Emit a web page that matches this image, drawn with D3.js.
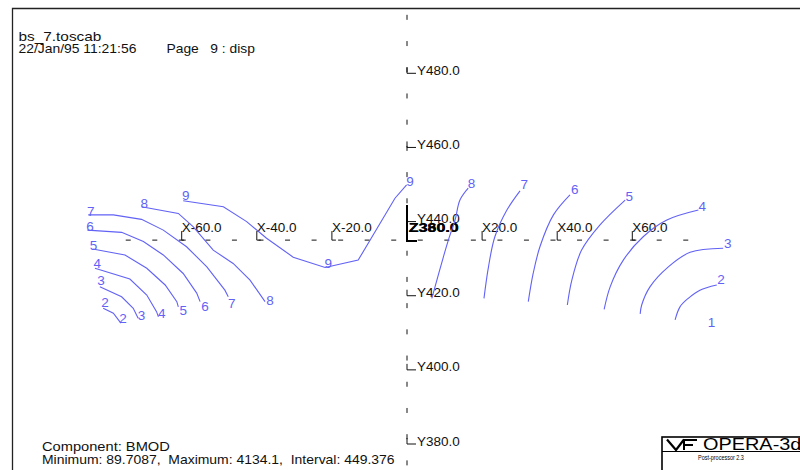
<!DOCTYPE html>
<html><head><meta charset="utf-8">
<script src="https://cdn.jsdelivr.net/npm/d3@7"></script>
<style>body{margin:0;background:#fff} svg{display:block} text{white-space:pre}</style>
</head><body>
<svg id="c" width="800" height="470"></svg>
<script>
// ---------- data ----------
const xTicks = [-60, -40, -20, 20, 40, 60];
const yTicks = [480, 460, 440, 420, 400, 380];
const zLabels = ["Z380.0", "Z360.0"];
const xAxisLevel = 435;          // Y value where the X axis runs
const axisDashStep = 7.07;       // spacing of the dashed axes (model units)

const headerLines = ["bs_7.toscab", "22/Jan/95 11:21:56"];
const pageLabel = "Page   9 : disp";
const footerLines = ["Component: BMOD", "Minimum: 89.7087,  Maximum: 4134.1,  Interval: 449.376"];

// contour polylines [X, Y]
const c9  = [[-59.6,445.6],[-48.9,444.0],[-42.7,440.0],[-37.4,435.5],[-30.3,430.4],[-21.8,427.6],[-13.0,429.6],[-3.2,446.3],[-0.1,449.9]];
const c8L = [[-70.7,444.0],[-60.9,442.2],[-56.9,438.6],[-51.6,432.3],[-46.3,428.7],[-41.8,424.2],[-37.8,418.4]];
const c7L = [[-84.9,441.8],[-78.2,441.8],[-70.7,440.6],[-64.9,437.7],[-58.7,433.2],[-53.3,427.8],[-48.5,421.5],[-47.6,419.7]];
const c6L = [[-85.1,437.7],[-76.0,437.1],[-70.2,434.6],[-64.9,431.0],[-59.6,426.0],[-56.0,420.7],[-55.1,418.4]];
const c5L = [[-83.7,432.6],[-75.1,431.0],[-69.3,427.4],[-64.4,422.9],[-61.3,418.4],[-60.9,417.0]];
const c4L = [[-83.1,427.4],[-73.8,424.5],[-69.3,420.2],[-66.7,415.7],[-66.2,414.3]];
const c3L = [[-81.8,422.4],[-76.0,419.7],[-72.9,416.6],[-71.6,413.9]];
const c2L = [[-80.9,416.6],[-78.2,415.3],[-76.2,412.6]];
const c8R = [[16.3,449.0],[14.1,445.8],[12.8,440.4],[11.2,435.6],[9.7,430.5],[7.0,420.7],[6.6,419.3]];
const c7R = [[30.1,448.3],[26.6,443.1],[23.4,435.9],[21.7,427.8],[20.5,419.3]];
const c6R = [[43.4,447.2],[39.0,441.8],[35.4,433.2],[33.6,426.0],[32.3,418.4]];
const c5R = [[58.1,445.8],[51.4,439.1],[46.5,432.3],[43.9,424.2],[42.7,417.5]];
const c4R = [[77.6,443.1],[69.2,440.4],[62.9,435.9],[57.6,429.6],[54.1,422.4],[52.5,416.3]];
const c3R = [[84.2,432.8],[75.4,431.7],[69.6,427.8],[64.7,422.4],[62.5,417.5],[62.1,415.1]];
const c2R = [[82.5,422.9],[78.0,421.5],[74.9,419.3],[72.7,417.0],[71.4,413.5]];

const leftContours  = [c9, c8L, c7L, c6L, c5L, c4L, c3L, c2L];
const rightContours = [c8R, c7R, c6R, c5R, c4R, c3R, c2R];

// contour labels [level, X, Y]
const contourLabels = [
  [7,-84.2,442.7],[7,-46.7,418.0],[6,-84.4,438.8],[6,-53.8,417.2],
  [5,-83.5,433.7],[5,-59.6,416.1],[4,-82.5,428.9],[4,-65.3,415.3],
  [3,-81.5,424.2],[3,-70.7,414.8],[2,-80.4,418.4],[2,-75.6,413.9],
  [8,-70.0,445.1],[8,-36.5,418.8],[9,-58.9,447.2],[9,-21.0,428.7],[9,0.8,450.8],
  [8,17.2,450.5],[7,31.2,450.1],[6,44.7,448.7],[5,59.2,446.9],
  [4,78.6,444.2],[3,85.4,434.3],[2,83.6,424.4],[1,81.1,412.8]
];

// ---------- drawing ----------
const svg = d3.select("#c");
const FONT = "'Liberation Sans', Arial, Helvetica, sans-serif";
const CCOL = "#6262f6";

const x = d3.scaleLinear().domain([-60, 60]).range([181.7, 632.3]);
const y = d3.scaleLinear().domain([380, 480]).range([444, 73.3]);

// frame
svg.append("path").attr("d", "M12.5,470 V8.5 H800").attr("fill","none").attr("stroke","#222").attr("stroke-width",1.3);

// text fitted to a measured width by horizontal scaling
function fitText(parent, str, px, py, size, width, opts = {}) {
  const t = parent.append("text").attr("font-family", FONT).attr("font-size", size)
    .attr("fill", opts.fill || "#111").attr("font-weight", opts.weight || "normal").text(str);
  const natural = t.node().getComputedTextLength();
  const sx = width ? width / natural : (opts.sx || 1);
  t.attr("transform", `translate(${px},${py}) scale(${sx},1)`);
  return t;
}
fitText(svg, headerLines[0], 18.5, 40.5, 12.5, 83);
fitText(svg, headerLines[1], 18.5, 52.5, 12.5, 118);
fitText(svg, pageLabel, 166.5, 52.5, 12.5, 88.5);
fitText(svg, footerLines[0], 42, 451, 12.5, 128);
fitText(svg, footerLines[1], 42, 464, 12.5, 353);

// dashed axes
const x0 = x(0), yA = y(xAxisLevel);
const xDashVals = d3.range(11).flatMap(k => [-(k + 0.5) * axisDashStep, (k + 0.5) * axisDashStep]);
svg.append("g").selectAll("line").data(xDashVals).join("line")
  .attr("x1", d => x(d) - 2.5).attr("x2", d => x(d) + 2.5)
  .attr("y1", yA).attr("y2", yA).attr("stroke", "#111").attr("stroke-width", 1);
const yDashVals = d3.range(18).map(k => xAxisLevel + (8.5 - k) * axisDashStep);
svg.append("g").selectAll("line").data(yDashVals).join("line")
  .attr("x1", x0).attr("x2", x0)
  .attr("y1", d => y(d) - 2.5).attr("y2", d => y(d) + 2.5)
  .attr("stroke", "#111").attr("stroke-width", 1);

// Y ticks + labels
const yt = svg.append("g");
yTicks.forEach(v => {
  const py = y(v);
  yt.append("path").attr("d", `M${x0},${py - 6} V${py} H${x0 + 9}`).attr("fill","none").attr("stroke","#111").attr("stroke-width",1);
  fitText(yt, "Y" + v.toFixed(1), x0 + 10, py + 1.5, 12.5, null, {sx: 1.08});
});

// X ticks + labels
const xt = svg.append("g");
xTicks.forEach(v => {
  const px = x(v);
  xt.append("path").attr("d", `M${px},${yA - 9} V${yA} H${px + 4}`).attr("fill","none").attr("stroke","#111").attr("stroke-width",1);
  fitText(xt, "X" + v.toFixed(1), px, yA - 8.5, 12.5, null, {sx: 1.08});
});

// origin mark and Z labels
svg.append("path").attr("d", `M${x0},${yA - 35} V${yA + 1} H${x0 + 10}`).attr("fill","none").attr("stroke","#000").attr("stroke-width",2);
zLabels.forEach((s, i) => {
  fitText(svg, s, x0 + 1.5 + i * 0.6, yA - 8.5, 12.5, 50, {weight: "bold", fill: "#000"});
});

// contours
const lineL = d3.line().x(d => x(d[0])).y(d => y(d[1]));
const lineR = d3.line().x(d => x(d[0])).y(d => y(d[1])).curve(d3.curveCatmullRom.alpha(0.5));
svg.append("g").selectAll("path").data(leftContours).join("path")
  .attr("d", lineL).attr("fill", "none").attr("stroke", CCOL).attr("stroke-width", 1.1);
svg.append("g").selectAll("path").data(rightContours).join("path")
  .attr("d", lineR).attr("fill", "none").attr("stroke", CCOL).attr("stroke-width", 1.1);
svg.append("g").selectAll("text").data(contourLabels).join("text")
  .attr("x", d => x(d[1])).attr("y", d => y(d[2])).attr("dy", "0.36em")
  .attr("text-anchor", "middle").attr("font-family", FONT).attr("font-size", 13.5)
  .attr("fill", CCOL).text(d => d[0]);

// logo
const lg = svg.append("g");
lg.append("rect").attr("x", 662).attr("y", 437).attr("width", 160).attr("height", 60)
  .attr("fill", "#fff").attr("stroke", "#000").attr("stroke-width", 1.6);
lg.append("line").attr("x1", 662).attr("x2", 800).attr("y1", 451.5).attr("y2", 451.5).attr("stroke", "#000").attr("stroke-width", 1.2);
lg.append("path").attr("d", "M667,439.5 L676,450 L684,439.5").attr("fill","none").attr("stroke","#000").attr("stroke-width",2.2);
lg.append("path").attr("d", "M684,450 V440 H697 M684,445 H693").attr("fill","none").attr("stroke","#000").attr("stroke-width",2);
fitText(lg, "OPERA-3d", 703, 450, 17, null, {sx: 1.17, fill: "#000"});
fitText(lg, "Post-processor 2.3", 698, 459.5, 7, 46, {fill: "#000"});
</script>
</body></html>
